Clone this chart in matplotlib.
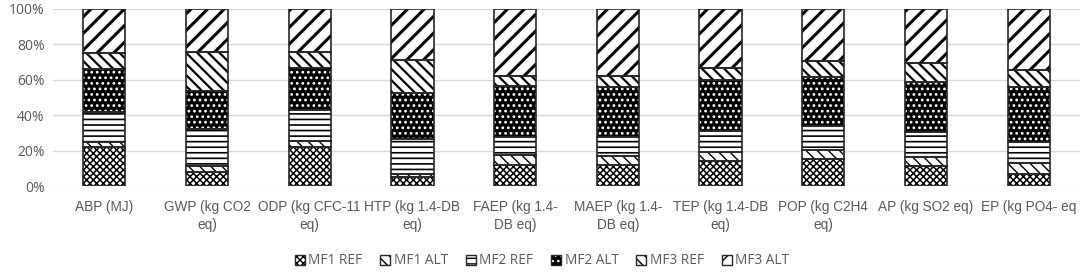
import numpy as np
import matplotlib
matplotlib.use("Agg")
import matplotlib.pyplot as plt
from matplotlib.patches import Patch
from matplotlib.legend_handler import HandlerTuple

categories = ["ABP (MJ)", "GWP (kg CO2\neq)", "ODP (kg CFC-11\neq)", "HTP (kg 1.4-DB\neq)",
              "FAEP (kg 1.4-\nDB eq)", "MAEP (kg 1.4-\nDB eq)", "TEP (kg 1.4-DB\neq)",
              "POP (kg C2H4\neq)", "AP (kg SO2 eq)", "EP (kg PO4- eq"]
series = ["MF1 REF", "MF1 ALT", "MF2 REF", "MF2 ALT", "MF3 REF", "MF3 ALT"]

mf1_ref = [22.2, 7.7, 22.2, 4.9, 11.9, 12.0, 14.0, 15.3, 11.3, 6.8]
mf1_alt = [2.8, 3.8, 3.2, 1.7, 5.6, 5.1, 5.0, 5.0, 5.3, 6.0]
mf2_ref = [17.0, 20.5, 17.5, 19.8, 10.4, 10.4, 12.0, 13.8, 13.7, 11.9]
mf2_alt = [23.9, 21.8, 23.6, 26.0, 28.6, 28.3, 28.9, 27.3, 28.6, 31.1]
mf3_ref = [9.4, 21.7, 9.4, 18.8, 5.6, 6.3, 6.6, 9.2, 10.4, 9.7]
mf3_alt = [24.7, 24.5, 24.1, 28.8, 37.9, 37.9, 33.5, 29.4, 30.7, 34.5]

data = [mf1_ref, mf1_alt, mf2_ref, mf2_alt, mf3_ref, mf3_alt]
# (hatch, facecolor, hatch colour, hatch linewidth)
styles = [("xxxxx", "white", "black", 1.1),
          ("\\\\\\", "white", "black", 1.0),
          ("---", "white", "black", 1.2),
          ("...", "black", "white", 1.2),
          ("\\\\\\", "white", "black", 1.6),
          ("//", "white", "black", 2.2)]

plt.rcParams["font.family"] = ["Liberation Sans", "DejaVu Sans"]

fig = plt.figure(figsize=(10.84, 2.72), dpi=100)
ax = fig.add_axes([53 / 1084, 1 - 186 / 272, 1027 / 1084, 177 / 272])

x = np.arange(len(categories))
width = 0.41
bottom = np.zeros(len(categories))
handles = []
for name, vals, (hatch, fc, hc, lw) in zip(series, data, styles):
    vals = np.array(vals)
    with plt.rc_context({"hatch.linewidth": lw}):
        ax.bar(x, vals, width, bottom=bottom, color=fc, edgecolor=hc, hatch=hatch,
               linewidth=0, zorder=2)
        ax.bar(x, vals, width, bottom=bottom, color="none", edgecolor="#262626",
               linewidth=1.2, zorder=3)
        h1 = Patch(facecolor=fc, edgecolor=hc, hatch=hatch, linewidth=0)
    h2 = Patch(facecolor="none", edgecolor="#262626", linewidth=1)
    handles.append((h1, h2))
    bottom += vals

ax.set_xlim(-0.5, len(categories) - 0.5)
ax.set_ylim(0, 100)
ax.set_yticks(range(0, 101, 20))
ax.set_yticklabels([f"{v}%" for v in range(0, 101, 20)], family=["Open Sans", "DejaVu Sans"])
ax.set_xticks(x)
ax.set_xticklabels(categories, linespacing=1.35)
ax.grid(axis="y", color="#d9d9d9", linewidth=1, zorder=0)
for s in ax.spines.values():
    s.set_visible(False)
ax.tick_params(length=0, colors="#595959")
ax.tick_params(axis="y", labelsize=10, pad=6)
ax.tick_params(axis="x", labelsize=9.8, pad=10)

leg = fig.legend(handles, series, loc="center", bbox_to_anchor=(0.5, 1 - 261 / 272), ncol=6,
                 frameon=False, labelcolor="#595959",
                 handler_map={tuple: HandlerTuple(ndivide=1)},
                 prop={"family": ["Open Sans", "DejaVu Sans"], "size": 9.8},
                 handlelength=0.75, handleheight=0.75, handletextpad=0.25, columnspacing=1.3)

fig.savefig("out.png", dpi=100)
